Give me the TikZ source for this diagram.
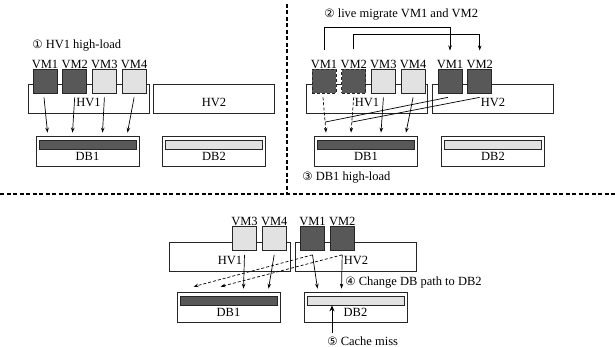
\documentclass[tikz,border=0pt]{standalone}
\usepackage{fontspec}
\setmainfont{Liberation Serif}
\newfontfamily\circfont{DejaVu Sans}
\usetikzlibrary{positioning,arrows.meta}
\definecolor{vmdark}{HTML}{585858}
\definecolor{vmlight}{HTML}{E2E2E2}
\newcommand{\cnum}[1]{{\circfont\fontsize{11.5}{11.5}\selectfont #1}}

\begin{document}
\begin{tikzpicture}[x=1pt,y=-1pt,font=\fontsize{12.5}{14}\selectfont,line width=0.7pt,
    hv/.style={draw=black!85,fill=white,minimum width=121pt,minimum height=29pt,inner sep=0pt,text height=16pt,text depth=0pt},
    db/.style={draw=black!85,fill=white,minimum width=103pt,minimum height=30pt,inner sep=0pt,text height=19pt,text depth=0pt},
    dbbar/.style={draw=black!85,minimum width=97pt,minimum height=9pt,inner sep=0pt},
    vm/.style={draw=black!85,minimum size=24pt,inner sep=0pt,label distance=3pt},
    hot/.style={vm,fill=vmdark},
    cold/.style={vm,fill=vmlight},
    moved/.style={hot,densely dashed},
    tag/.style={inner sep=0pt},
    arr/.style={-{Stealth[length=5pt,width=3.5pt]}},
    old/.style={arr,densely dashed},
    divider/.style={line width=1.2pt,dash pattern=on 4pt off 2.5pt}]
  \path[use as bounding box] (0,0) rectangle (615,347);

  \node[hv] (hva1) at (88.5,98.5) {HV1};
  \node[hv] (hva2) at (214,98.5) {HV2};
  \node[hot,label={[tag]above:VM1}] (vma1) at (45,81) {};
  \node[hot,right=5pt of vma1,label={[tag]above:VM2}] (vma2) {};
  \node[cold,right=5pt of vma2,label={[tag]above:VM3}] (vma3) {};
  \node[cold,right=5pt of vma3,label={[tag]above:VM4}] (vma4) {};
  \node[tag,anchor=west] (note1) at (32,46) {\cnum{①} HV1 high-load};
  \node[db] (dba1) at (87.5,151) {DB1};
  \node[db] (dba2) at (214,151) {DB2};
  \node[dbbar,fill=vmdark,below=4pt of dba1.north] (bara1) {};
  \node[dbbar,fill=vmlight,below=4pt of dba2.north] (bara2) {};
  \draw[arr] ([xshift=-1pt,yshift=-4pt]vma1.south) -- ([xshift=-40pt,yshift=3pt]dba1.north);
  \draw[arr] ([yshift=-4pt]vma2.south) -- ([xshift=-15pt,yshift=3pt]dba1.north);
  \draw[arr] ([yshift=-4pt]vma3.south) -- ([xshift=15pt,yshift=3pt]dba1.north);
  \draw[arr] ([yshift=-4pt]vma4.south) -- ([xshift=40pt,yshift=3pt]dba1.north);

  \node[hv] (hvb1) at (367,98.5) {HV1};
  \node[hv] (hvb2) at (493,98.5) {HV2};
  \node[moved,label={[tag,name=tb1]above:VM1}] (vmb1) at (324,81) {};
  \node[moved,right=5pt of vmb1,label={[tag,name=tb2]above:VM2}] (vmb2) {};
  \node[cold,right=5pt of vmb2,label={[tag]above:VM3}] (vmb3) {};
  \node[cold,right=5pt of vmb3,label={[tag]above:VM4}] (vmb4) {};
  \node[hot,label={[tag,name=tb5]above:VM1}] (vmb5) at (450,81) {};
  \node[hot,right=5pt of vmb5,label={[tag,name=tb6]above:VM2}] (vmb6) {};
  \node[tag,anchor=west] (note2) at (324,15) {\cnum{②} live migrate VM1 and VM2};
  \draw[arr] ([yshift=10pt]tb1.north) -- ++(0pt,22pt) -| ([yshift=9pt]tb5.north);
  \draw[arr] ([yshift=10pt]tb2.north) -- ++(0pt,15pt) -| ([yshift=9pt]tb6.north);
  \node[db] (dbb1) at (366,151) {DB1};
  \node[db] (dbb2) at (493,151) {DB2};
  \node[dbbar,fill=vmdark,below=4pt of dbb1.north] (barb1) {};
  \node[dbbar,fill=vmlight,below=4pt of dbb2.north] (barb2) {};
  \draw[old] ([xshift=-1pt,yshift=-4pt]vmb1.south) -- coordinate[pos=0.7] (jn1) ([xshift=-40pt,yshift=3pt]dbb1.north);
  \draw[old] ([yshift=-4pt]vmb2.south) -- coordinate[pos=0.7] (jn2) ([xshift=-15pt,yshift=3pt]dbb1.north);
  \draw[arr] ([yshift=-4pt]vmb3.south) -- ([xshift=15pt,yshift=3pt]dbb1.north);
  \draw[arr] ([yshift=-4pt]vmb4.south) -- ([xshift=40pt,yshift=3pt]dbb1.north);
  \draw ([xshift=-2pt,yshift=-4pt]vmb5.south) -- (jn1);
  \draw ([yshift=-4pt]vmb6.south) -- (jn2);
  \node[tag,anchor=west] (note3) at (302,178) {\cnum{③} DB1 high-load};

  \draw[divider] (287,4) -- (287,193);
  \draw[divider] (0,194) -- (615,194);

  \node[hv] (hvc1) at (230,256.5) {HV1};
  \node[hv] (hvc2) at (356,256.5) {HV2};
  \node[cold,label={[tag]above:VM3}] (vmc3) at (244.5,238.5) {};
  \node[cold,right=5pt of vmc3,label={[tag]above:VM4}] (vmc4) {};
  \node[hot,label={[tag]above:VM1}] (vmc1) at (312.5,238.5) {};
  \node[hot,right=5pt of vmc1,label={[tag]above:VM2}] (vmc2) {};
  \node[db] (dbc1) at (228.5,307) {DB1};
  \node[db] (dbc2) at (355.5,307) {DB2};
  \node[dbbar,fill=vmdark,below=4pt of dbc1.north] (barc1) {};
  \node[dbbar,fill=vmlight,below=4pt of dbc2.north] (barc2) {};
  \draw[arr] ([yshift=-4pt]vmc3.south) -- ([xshift=15pt,yshift=3pt]dbc1.north);
  \draw[arr] ([yshift=-4pt]vmc4.south) -- ([xshift=40pt,yshift=3pt]dbc1.north);
  \draw[old] ([yshift=-4pt]vmc1.south) -- ([xshift=-35pt,yshift=5pt]dbc1.north);
  \draw[old] ([yshift=-4pt]vmc2.south) -- ([xshift=-8pt,yshift=5pt]dbc1.north);
  \draw[arr] ([yshift=-4pt]vmc1.south) -- ([xshift=-38pt,yshift=3pt]dbc2.north);
  \draw[arr] ([yshift=-4pt]vmc2.south) -- ([xshift=-14pt,yshift=3pt]dbc2.north);
  \node[tag,anchor=west] (note4) at (345,283) {\cnum{④} Change DB path to DB2};
  \coordinate (miss) at (332,333);
  \draw[-{Stealth[length=6pt,width=5pt]}] (miss) -- (miss |- barc2.south);
  \node[tag,anchor=west] (note5) at (327,341) {\cnum{⑤} Cache miss};
\end{tikzpicture}
\end{document}
